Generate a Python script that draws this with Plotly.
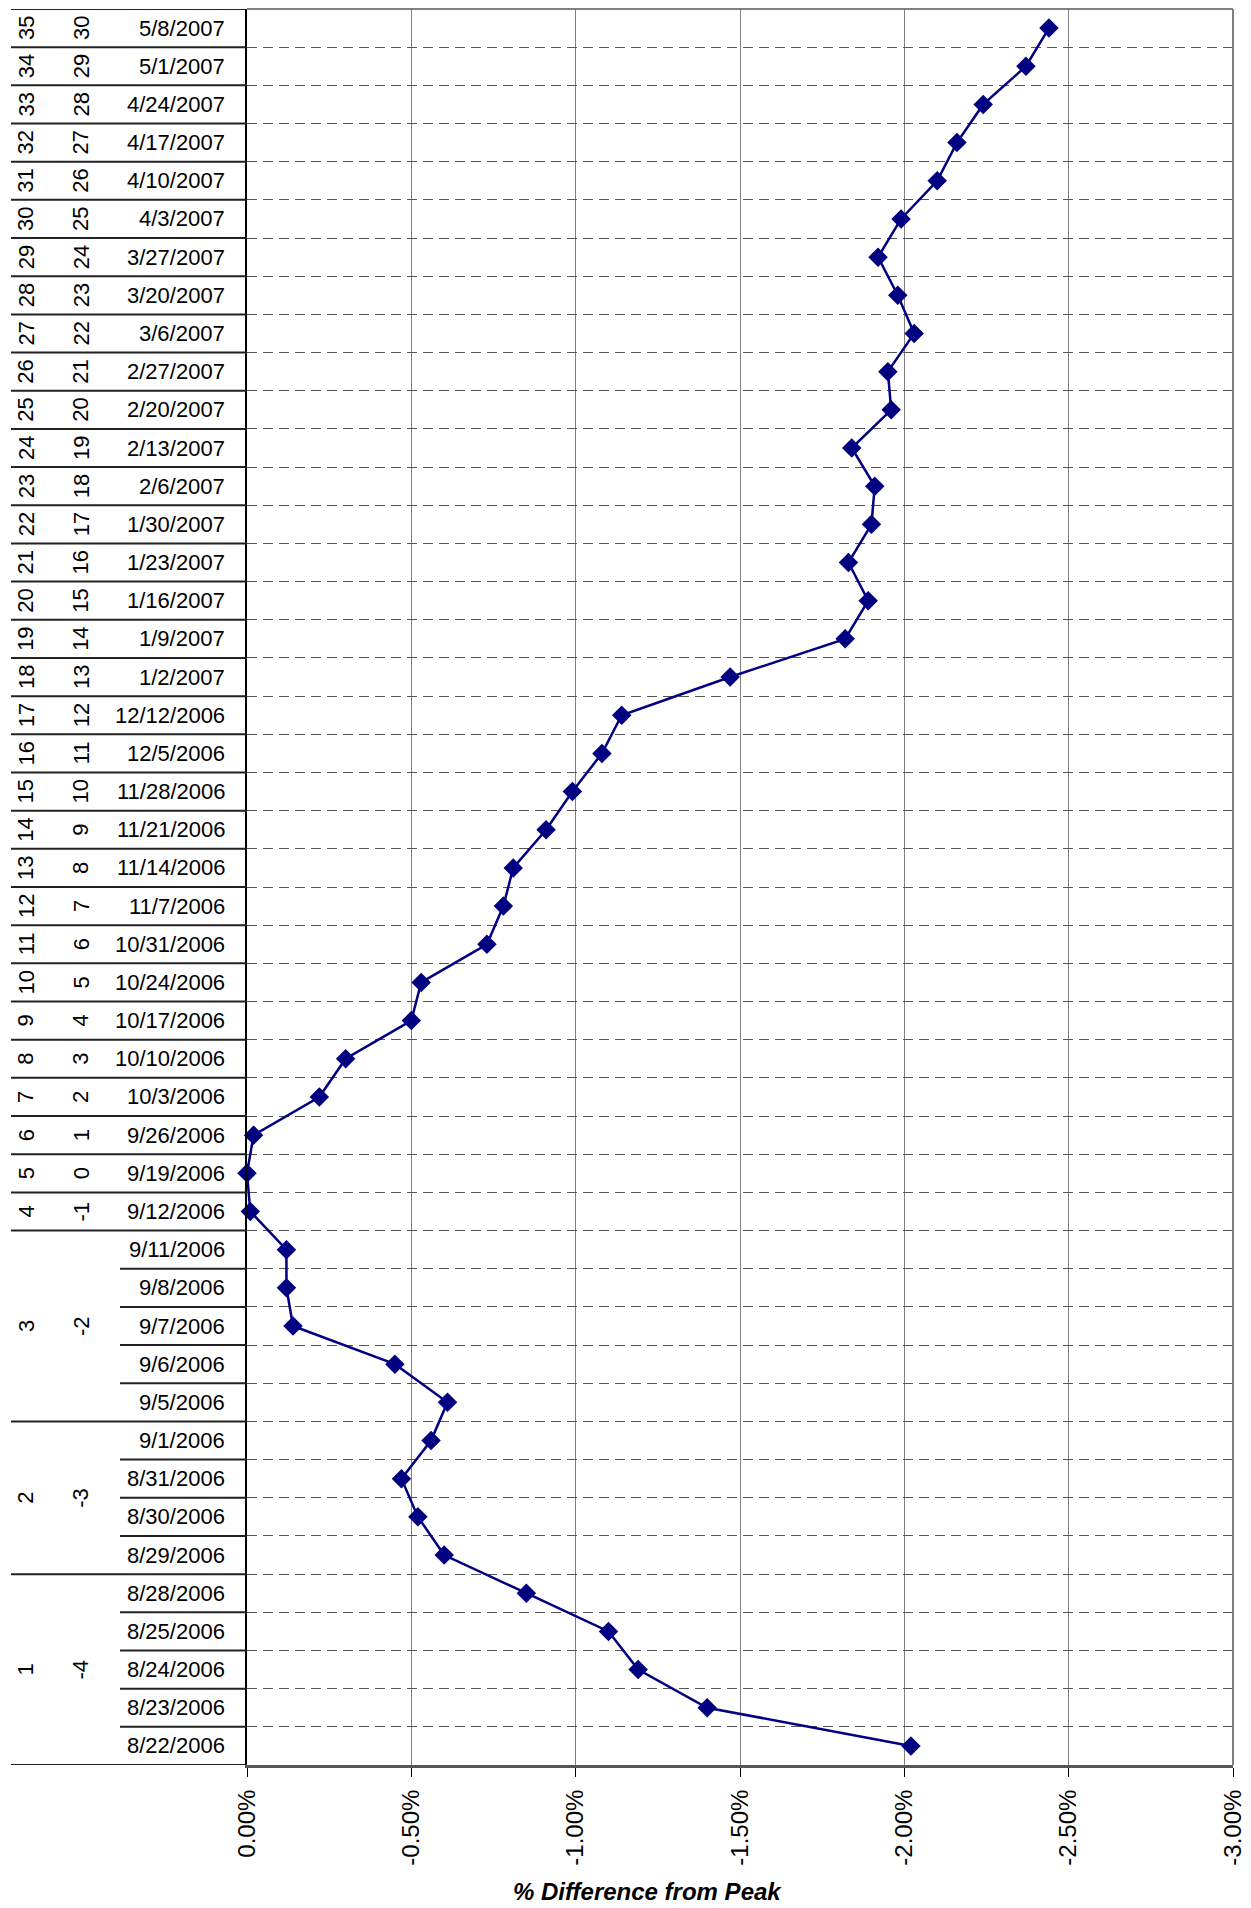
import plotly.graph_objects as go

dates = ["8/22/2006", "8/23/2006", "8/24/2006", "8/25/2006", "8/28/2006",
         "8/29/2006", "8/30/2006", "8/31/2006", "9/1/2006",
         "9/5/2006", "9/6/2006", "9/7/2006", "9/8/2006", "9/11/2006",
         "9/12/2006", "9/19/2006", "9/26/2006", "10/3/2006", "10/10/2006",
         "10/17/2006", "10/24/2006", "10/31/2006", "11/7/2006", "11/14/2006",
         "11/21/2006", "11/28/2006", "12/5/2006", "12/12/2006",
         "1/2/2007", "1/9/2007", "1/16/2007", "1/23/2007", "1/30/2007",
         "2/6/2007", "2/13/2007", "2/20/2007", "2/27/2007", "3/6/2007",
         "3/20/2007", "3/27/2007", "4/3/2007", "4/10/2007", "4/17/2007",
         "4/24/2007", "5/1/2007", "5/8/2007"]

weeks = [-4, -4, -4, -4, -4, -3, -3, -3, -3, -2, -2, -2, -2, -2,
         -1, 0, 1, 2, 3, 4, 5, 6, 7, 8, 9, 10, 11, 12,
         13, 14, 15, 16, 17, 18, 19, 20, 21, 22, 23, 24, 25, 26, 27, 28, 29, 30]

groups = [1, 1, 1, 1, 1, 2, 2, 2, 2, 3, 3, 3, 3, 3,
          4, 5, 6, 7, 8, 9, 10, 11, 12, 13, 14, 15, 16, 17,
          18, 19, 20, 21, 22, 23, 24, 25, 26, 27, 28, 29, 30, 31, 32, 33, 34, 35]

pct_diff = [-2.02, -1.40, -1.19, -1.10, -0.85,
            -0.60, -0.52, -0.47, -0.56,
            -0.61, -0.45, -0.14, -0.12, -0.12,
            -0.01, 0.00, -0.02, -0.22, -0.30, -0.50, -0.53, -0.73, -0.78,
            -0.81, -0.91, -0.99, -1.08, -1.14,
            -1.47, -1.82, -1.89, -1.83, -1.90, -1.91, -1.84, -1.96, -1.95,
            -2.03, -1.98, -1.92, -1.99, -2.10, -2.16, -2.24, -2.37, -2.44]

xticks = [0.0, -0.5, -1.0, -1.5, -2.0, -2.5, -3.0]
xticktext = ["0.00%", "-0.50%", "-1.00%", "-1.50%", "-2.00%", "-2.50%", "-3.00%"]

n = len(dates)
rows = list(range(n))

FONT = "Liberation Sans, Arial, sans-serif"
OFF = 8                      # page body margin
AX_LEFT = 247                # axis x position in window pixels
AX_RIGHT = 1233
W, H = 1251 - OFF, 1908 - OFF
L = AX_LEFT - OFF
R = W - (AX_RIGHT - OFF)
T = 1
B = H - (1765 - OFF)
plot_w = W - L - R

def rel_paper(win_px):
    return (win_px - AX_LEFT) / plot_w

fig = go.Figure()
fig.add_trace(go.Scatter(
    x=pct_diff, y=rows, mode="lines+markers",
    line=dict(color="#000080", width=2.5),
    marker=dict(symbol="diamond", size=15, color="#000080"),
    showlegend=False, hoverinfo="skip", cliponaxis=False))

annotations = []
shapes = []

# date labels
for i, d in enumerate(dates):
    annotations.append(dict(x=0, xref="paper", y=i, yref="y", text=d,
                            showarrow=False, xanchor="right", yanchor="middle",
                            xshift=-20, font=dict(family=FONT, size=22, color="black")))

# week / group labels (centered over spans)
def spans(vals):
    out = []
    start = 0
    for i in range(1, n + 1):
        if i == n or vals[i] != vals[start]:
            out.append((start, i - 1, vals[start]))
            start = i
    return out

for s, e, v in spans(weeks):
    annotations.append(dict(x=0, xref="paper", y=(s + e) / 2, yref="y", text=str(v),
                            showarrow=False, xanchor="center", yanchor="middle",
                            xshift=81 - AX_LEFT, textangle=-90,
                            font=dict(family=FONT, size=22, color="black")))
for s, e, v in spans(groups):
    annotations.append(dict(x=0, xref="paper", y=(s + e) / 2, yref="y", text=str(v),
                            showarrow=False, xanchor="center", yanchor="middle",
                            xshift=26 - AX_LEFT, textangle=-90,
                            font=dict(family=FONT, size=22, color="black")))

# table lines
full_x0 = rel_paper(11)
date_x0 = rel_paper(120)
for i in range(n - 1):
    x0 = full_x0 if groups[i] != groups[i + 1] else date_x0
    shapes.append(dict(type="line", xref="paper", yref="y", x0=x0, x1=0,
                       y0=i + 0.5, y1=i + 0.5, line=dict(color="#222222", width=2)))
shapes.append(dict(type="line", xref="paper", yref="y", x0=full_x0, x1=0,
                   y0=-0.5, y1=-0.5, line=dict(color="#222222", width=2)))
shapes.append(dict(type="line", xref="paper", yref="y", x0=full_x0, x1=0,
                   y0=n - 0.5, y1=n - 0.5, line=dict(color="#222222", width=2)))
# plot frame top/right
shapes.append(dict(type="line", xref="paper", yref="paper", x0=0, x1=1, y0=1, y1=1,
                   line=dict(color="#808080", width=2)))
shapes.append(dict(type="line", xref="paper", yref="paper", x0=1, x1=1, y0=0, y1=1,
                   line=dict(color="#808080", width=2)))

# axis title
annotations.append(dict(x=rel_paper(647), xref="paper", y=0, yref="paper",
                        yshift=-126, text="<b><i>% Difference from Peak</i></b>",
                        showarrow=False, xanchor="center", yanchor="middle",
                        font=dict(family=FONT, size=24, color="black")))

fig.update_layout(
    width=W, height=H,
    margin=dict(l=L, r=R, t=T, b=B, pad=0, autoexpand=False),
    paper_bgcolor="white", plot_bgcolor="white",
    annotations=annotations, shapes=shapes,
    xaxis=dict(range=[0, -3], tickvals=xticks, ticktext=xticktext,
               tickangle=-90, ticks="outside", ticklen=9, tickcolor="black",
               ticklabelstandoff=3, automargin=False,
               tickfont=dict(family=FONT, size=24, color="black"),
               showgrid=True, gridcolor="#808080", gridwidth=1,
               zeroline=False, showline=True, linecolor="#555555", linewidth=3),
    yaxis=dict(range=[-0.5, n - 0.5], tickvals=[i + 0.5 for i in range(n - 1)],
               showticklabels=False, ticks="", automargin=False,
               showgrid=True, gridcolor="#555555", gridwidth=1, griddash="10px,6px",
               zeroline=False, showline=True, linecolor="black", linewidth=2),
)

fig.write_html("out.html")
